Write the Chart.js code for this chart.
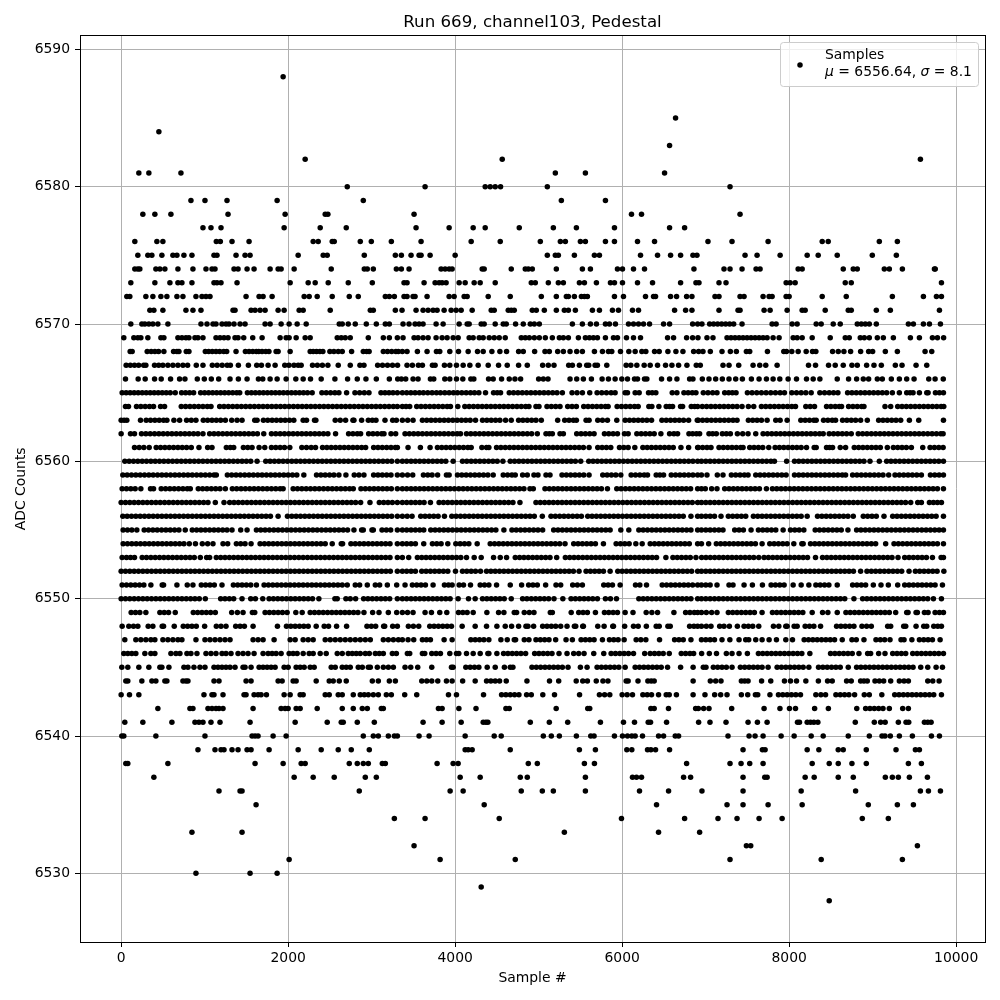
<!DOCTYPE html>
<html>
<head>
<meta charset="utf-8">
<title>Run 669, channel103, Pedestal</title>
<script src="https://cdn.jsdelivr.net/npm/chart.js@4/dist/chart.umd.min.js"></script>
<style>
body { margin: 0; background: #fff; }
canvas { display: block; }
</style>
</head>
<body>
<canvas id="myChart" width="1000" height="1000"></canvas>
<script>
// sample numbers, one list per ADC count
const s6588 = [1940];
const s6585 = [6640];
const s6584 = [452];
const s6583 = [6568];
const s6582 = [2204, 4564, 9572];
const s6581 = [212, 332, 716, 5200, 5560, 6508];
const s6580 = [2708, 3640, 4360, 4420, 4480, 4544, 5104, 7292];
const s6579 = [836, 1004, 1268, 1868, 2900, 5272, 5800];
const s6578 = [260, 404, 596, 1280, 1964, 2444, 2476, 3508, 6112, 6232, 7412];
const s6577 = [980, 1076, 1196, 1952, 2384, 2696, 3532, 3928, 4216, 4360, 4768, 5176, 5452, 5908, 6568, 6748];
const s6576 = [164, 428, 500, 1140, 1188, 1328, 1532, 2300, 2360, 2528, 2552, 2864, 2996, 3236, 3592, 4192, 4540, 5020, 5260, 5320, 5500, 5560, 5800, 5908, 6184, 6388, 7028, 7316, 7748, 8396, 8468, 9080, 9296];
const s6575 = [200, 320, 368, 488, 620, 668, 752, 848, 1112, 1148, 1376, 1484, 1544, 2120, 2420, 2468, 2912, 3284, 3356, 3472, 3568, 3592, 3700, 4000, 5104, 5200, 5236, 5428, 5668, 5728, 6220, 6424, 6580, 6700, 6848, 6896, 7472, 7616, 7892, 8216, 8348, 8576, 8996, 9284];
const s6574 = [164, 200, 224, 416, 464, 524, 680, 860, 1016, 1088, 1124, 1352, 1400, 1508, 1592, 1784, 1880, 1916, 2072, 2516, 2912, 2948, 3020, 3296, 3356, 3448, 3832, 3880, 3928, 3964, 4324, 4348, 4672, 4840, 4876, 4924, 5212, 5524, 5620, 5944, 6004, 6136, 6268, 6860, 7220, 7292, 7436, 7604, 7652, 8108, 8156, 8648, 8768, 8816, 9140, 9200, 9356, 9740, 9750];
const s6573 = [116, 404, 584, 680, 728, 848, 1112, 1148, 1196, 1388, 2024, 2240, 2324, 2480, 2720, 3008, 3388, 3424, 3628, 3760, 3808, 3844, 3892, 4048, 4120, 4228, 4300, 4480, 4912, 4960, 5116, 5236, 5296, 5488, 5548, 5692, 5860, 5908, 6004, 6184, 6364, 6700, 6884, 6920, 7160, 7244, 7964, 8012, 8072, 8672, 8744, 9824];
const s6572 = [68, 104, 296, 380, 476, 548, 668, 740, 896, 968, 1016, 1064, 1496, 1652, 1700, 1808, 2192, 2252, 2348, 2528, 2732, 2840, 3164, 3212, 3272, 3388, 3424, 3496, 3520, 3664, 3928, 3988, 4108, 4144, 4396, 4660, 5032, 5212, 5332, 5356, 5428, 5512, 5548, 5584, 5908, 6016, 6280, 6376, 6400, 6580, 6652, 6772, 6836, 7112, 7160, 7412, 7460, 7688, 7760, 7796, 7964, 8000, 8396, 8684, 9236, 9608, 9764, 9824];
const s6571 = [344, 392, 500, 776, 860, 956, 1340, 1364, 1556, 1604, 1664, 1724, 1880, 1952, 2132, 2180, 2504, 2984, 3020, 3284, 3364, 3532, 3616, 3676, 3736, 3784, 3868, 3952, 4012, 4072, 4204, 4432, 4468, 4636, 4672, 4708, 4924, 4972, 5068, 5212, 5308, 5356, 5440, 5644, 5728, 5884, 5956, 6124, 6196, 6628, 6760, 6836, 7160, 7388, 7412, 7700, 7772, 7976, 8156, 8192, 8432, 8708, 8744, 9044, 9212, 9800];
const s6570 = [116, 248, 284, 332, 380, 440, 560, 956, 1028, 1100, 1136, 1208, 1256, 1292, 1352, 1424, 1484, 1724, 1784, 1916, 2012, 2108, 2216, 2612, 2648, 2720, 2804, 2936, 3056, 3164, 3212, 3376, 3448, 3520, 3568, 3616, 3772, 3856, 4048, 4144, 4168, 4312, 4348, 4480, 4576, 4612, 4724, 4816, 4900, 4948, 5008, 5404, 5524, 5620, 5692, 5800, 5848, 5920, 6076, 6136, 6196, 6256, 6328, 6496, 6568, 6844, 6904, 6956, 7048, 7096, 7144, 7192, 7240, 7288, 7336, 7436, 7796, 7844, 8036, 8096, 8324, 8384, 8528, 8612, 8816, 8864, 8912, 8960, 9044, 9428, 9488, 9608, 9680, 9812];
const s6569 = [32, 152, 200, 236, 320, 476, 512, 680, 728, 776, 812, 884, 920, 980, 1136, 1184, 1232, 1280, 1364, 1400, 1468, 1576, 1688, 1904, 1976, 2012, 2096, 2204, 2264, 2588, 2636, 2684, 2744, 2960, 3140, 3212, 3308, 3376, 3508, 3556, 3616, 3676, 3772, 3844, 3904, 3976, 4036, 4168, 4216, 4288, 4336, 4408, 4468, 4528, 4600, 4792, 4840, 4888, 4948, 5008, 5080, 5164, 5248, 5296, 5356, 5476, 5560, 5608, 5656, 5704, 5800, 5896, 5944, 6052, 6136, 6220, 6544, 6616, 6772, 6844, 6908, 7016, 7088, 7256, 7304, 7352, 7400, 7448, 7496, 7544, 7592, 7640, 7688, 7736, 7808, 7880, 8048, 8096, 8156, 8276, 8492, 8672, 8720, 8852, 8900, 8960, 9056, 9128, 9248, 9452, 9560, 9716, 9776, 9850];
const s6568 = [108, 132, 312, 360, 404, 448, 512, 628, 668, 692, 780, 812, 1008, 1048, 1092, 1136, 1180, 1228, 1264, 1376, 1488, 1532, 1576, 1620, 1648, 1688, 1732, 1770, 1856, 1880, 2024, 2264, 2300, 2340, 2380, 2416, 2500, 2548, 2600, 2648, 2760, 2900, 2940, 2970, 3140, 3190, 3240, 3290, 3320, 3368, 3424, 3548, 3664, 3776, 3816, 3936, 4040, 4156, 4268, 4336, 4440, 4536, 4616, 4760, 4816, 4952, 5076, 5128, 5228, 5296, 5376, 5456, 5524, 5668, 5764, 5836, 5876, 5980, 6080, 6156, 6236, 6284, 6388, 6444, 6548, 6644, 6728, 6856, 6916, 6968, 7056, 7196, 7296, 7368, 7488, 7528, 7740, 7936, 7968, 8032, 8108, 8204, 8280, 8320, 8520, 8588, 8656, 8736, 8856, 8952, 9000, 9152, 9296, 9628, 9708];
const s6567 = [60, 110, 160, 210, 270, 296, 400, 450, 500, 560, 620, 680, 740, 796, 900, 980, 1092, 1150, 1210, 1270, 1308, 1404, 1524, 1624, 1680, 1760, 1844, 1960, 2010, 2070, 2120, 2156, 2292, 2350, 2410, 2476, 2600, 2744, 2860, 2908, 3072, 3130, 3190, 3250, 3310, 3424, 3488, 3560, 3608, 3728, 3760, 3872, 3936, 4016, 4096, 4176, 4276, 4396, 4520, 4624, 4760, 4864, 5048, 5116, 5184, 5360, 5404, 5488, 5576, 5600, 5676, 5704, 5816, 6048, 6104, 6176, 6264, 6336, 6424, 6520, 6596, 6676, 6776, 6888, 6936, 7208, 7280, 7396, 7568, 7648, 7720, 7856, 8232, 8316, 8472, 8552, 8648, 8752, 8816, 8928, 9016, 9104, 9272, 9352, 9520, 9648];
const s6566 = [52, 204, 288, 400, 480, 592, 700, 764, 912, 996, 1080, 1168, 1304, 1404, 1508, 1644, 1696, 1784, 1868, 1976, 2092, 2180, 2268, 2396, 2560, 2712, 2828, 2932, 3056, 3212, 3312, 3356, 3408, 3496, 3556, 3704, 3744, 3876, 3936, 4016, 4092, 4188, 4224, 4400, 4456, 4556, 4648, 4716, 4784, 5000, 5056, 5112, 5376, 5456, 5536, 5632, 5760, 5836, 5916, 5996, 6064, 6148, 6184, 6268, 6296, 6472, 6568, 6656, 6808, 6848, 6960, 7040, 7120, 7200, 7280, 7360, 7440, 7548, 7640, 7728, 7808, 7888, 7988, 8088, 8208, 8288, 8368, 8576, 8712, 8808, 8888, 8952, 9056, 9116, 9224, 9320, 9408, 9496, 9672, 9748, 9846];
const s6565 = [12, 60, 108, 156, 204, 252, 300, 348, 396, 444, 492, 540, 588, 648, 724, 772, 820, 868, 952, 1000, 1048, 1096, 1144, 1192, 1240, 1288, 1336, 1384, 1420, 1512, 1560, 1608, 1656, 1704, 1752, 1800, 1848, 1896, 1944, 1992, 2040, 2088, 2136, 2184, 2232, 2288, 2404, 2456, 2508, 2560, 2608, 2700, 2800, 2856, 2912, 2968, 3112, 3160, 3208, 3256, 3308, 3368, 3420, 3470, 3520, 3572, 3620, 3672, 3724, 3776, 3824, 3876, 3928, 3980, 4028, 4080, 4132, 4184, 4232, 4284, 4364, 4460, 4504, 4544, 4648, 4700, 4752, 4804, 4856, 4908, 4960, 5012, 5064, 5116, 5168, 5220, 5284, 5400, 5460, 5524, 5612, 5700, 5756, 5812, 5868, 5916, 6036, 6064, 6156, 6204, 6316, 6360, 6404, 6600, 6656, 6740, 6790, 6840, 6884, 6972, 7028, 7084, 7136, 7228, 7276, 7320, 7364, 7500, 7556, 7612, 7668, 7724, 7780, 7836, 7892, 7944, 8032, 8088, 8144, 8200, 8264, 8368, 8424, 8480, 8532, 8584, 8700, 8752, 8804, 8856, 8908, 8960, 9012, 9064, 9116, 9168, 9236, 9320, 9408, 9448, 9484, 9560, 9648, 9664, 9752, 9800, 9848];
const s6564 = [52, 88, 184, 236, 288, 340, 388, 472, 520, 720, 772, 824, 876, 928, 980, 1032, 1076, 1180, 1232, 1284, 1336, 1388, 1440, 1492, 1544, 1596, 1648, 1700, 1752, 1804, 1856, 1908, 1960, 2012, 2064, 2116, 2168, 2220, 2272, 2324, 2376, 2428, 2480, 2532, 2584, 2636, 2688, 2740, 2792, 2844, 2896, 2948, 3000, 3052, 3104, 3156, 3208, 3260, 3308, 3368, 3412, 3456, 3540, 3592, 3644, 3696, 3748, 3800, 3852, 3904, 3944, 4032, 4116, 4168, 4220, 4272, 4324, 4376, 4428, 4480, 4532, 4584, 4636, 4688, 4740, 4792, 4844, 4884, 4968, 5004, 5100, 5152, 5204, 5256, 5348, 5400, 5452, 5540, 5592, 5644, 5696, 5748, 5800, 5832, 5940, 5992, 6044, 6096, 6148, 6192, 6320, 6356, 6440, 6528, 6568, 6604, 6700, 6724, 6828, 6868, 6904, 6960, 7012, 7064, 7116, 7168, 7220, 7272, 7324, 7376, 7436, 7512, 7576, 7668, 7720, 7772, 7824, 7876, 7928, 7980, 8032, 8076, 8200, 8252, 8304, 8448, 8500, 8552, 8600, 8628, 8712, 8764, 8816, 8868, 8896, 9148, 9216, 9300, 9352, 9404, 9456, 9508, 9560, 9612, 9664, 9716, 9768, 9820, 9852];
const s6563 = [0, 36, 68, 232, 300, 352, 404, 456, 508, 548, 632, 700, 784, 840, 896, 984, 1036, 1088, 1140, 1192, 1248, 1324, 1388, 1448, 1600, 1628, 1704, 1756, 1808, 1860, 1912, 1964, 2016, 2068, 2180, 2220, 2316, 2332, 2564, 2624, 2688, 2776, 2788, 2880, 2960, 3008, 3052, 3160, 3252, 3296, 3368, 3432, 3496, 3608, 3660, 3712, 3764, 3816, 3868, 3920, 3972, 4024, 4076, 4128, 4180, 4244, 4328, 4380, 4432, 4484, 4536, 4604, 4672, 4760, 4812, 4864, 4916, 4968, 5032, 5228, 5312, 5364, 5416, 5452, 5568, 5604, 5708, 5764, 5824, 5936, 6036, 6088, 6140, 6192, 6244, 6296, 6352, 6476, 6528, 6580, 6632, 6684, 6736, 6796, 6900, 6912, 6964, 7016, 7068, 7120, 7172, 7224, 7276, 7328, 7376, 7512, 7564, 7616, 7668, 7736, 7840, 7892, 7976, 8140, 8192, 8244, 8296, 8324, 8412, 8464, 8516, 8556, 8640, 8692, 8744, 8796, 8856, 8936, 9072, 9124, 9176, 9228, 9280, 9336, 9440, 9552, 9848];
const s6562 = [0, 112, 160, 244, 296, 348, 400, 452, 504, 556, 608, 660, 712, 764, 816, 868, 920, 980, 1060, 1112, 1164, 1216, 1268, 1320, 1372, 1424, 1476, 1528, 1580, 1632, 1708, 1800, 1852, 1904, 1956, 2008, 2060, 2112, 2164, 2216, 2268, 2320, 2372, 2424, 2476, 2568, 2724, 2776, 2828, 2868, 2964, 3016, 3068, 3120, 3148, 3232, 3288, 3400, 3452, 3504, 3556, 3608, 3660, 3712, 3764, 3816, 3868, 3920, 3972, 4024, 4064, 4136, 4188, 4240, 4292, 4344, 4396, 4448, 4500, 4552, 4604, 4656, 4708, 4760, 4812, 4864, 4916, 4984, 5088, 5128, 5164, 5256, 5296, 5456, 5508, 5560, 5612, 5664, 5788, 5840, 5892, 5944, 6028, 6072, 6176, 6228, 6280, 6332, 6384, 6464, 6568, 6620, 6664, 6800, 6844, 6890, 6928, 7040, 7084, 7128, 7200, 7248, 7296, 7380, 7444, 7508, 7600, 7688, 7740, 7792, 7844, 7896, 7948, 8000, 8052, 8104, 8156, 8208, 8260, 8312, 8364, 8408, 8480, 8532, 8584, 8636, 8688, 8744, 8828, 8880, 8932, 8984, 9036, 9088, 9140, 9192, 9244, 9296, 9348, 9400, 9452, 9504, 9556, 9608, 9660, 9712, 9764, 9816, 9844];
const s6561 = [160, 216, 272, 336, 420, 472, 524, 576, 628, 680, 732, 784, 840, 932, 1036, 1088, 1260, 1308, 1348, 1464, 1516, 1568, 1652, 1720, 1800, 1852, 1904, 1956, 2020, 2164, 2220, 2276, 2328, 2412, 2464, 2516, 2568, 2620, 2672, 2724, 2776, 2828, 2880, 2928, 3024, 3076, 3128, 3180, 3232, 3284, 3308, 3436, 3584, 3700, 3788, 3840, 3892, 3944, 3996, 4048, 4100, 4152, 4192, 4320, 4376, 4404, 4496, 4548, 4600, 4652, 4704, 4756, 4808, 4860, 4912, 4964, 5016, 5068, 5120, 5172, 5224, 5276, 5328, 5380, 5432, 5484, 5536, 5604, 5708, 5760, 5812, 5864, 5968, 6020, 6072, 6152, 6248, 6300, 6352, 6404, 6456, 6508, 6560, 6612, 6704, 6796, 6904, 6912, 6964, 7016, 7064, 7160, 7212, 7264, 7316, 7368, 7420, 7448, 7528, 7580, 7632, 7684, 7756, 7832, 7884, 7936, 7988, 8040, 8092, 8144, 8208, 8300, 8324, 8448, 8484, 8520, 8612, 8676, 8780, 8832, 8884, 8936, 8988, 9040, 9092, 9176, 9248, 9300, 9352, 9404, 9464, 9600, 9688, 9740, 9792, 9844];
const s6560 = [44, 96, 148, 200, 252, 304, 356, 408, 460, 512, 564, 616, 668, 720, 772, 824, 876, 928, 980, 1032, 1084, 1136, 1188, 1240, 1292, 1344, 1396, 1448, 1500, 1552, 1628, 1732, 1784, 1836, 1888, 1940, 1992, 2044, 2096, 2148, 2200, 2252, 2304, 2356, 2408, 2460, 2512, 2564, 2616, 2668, 2720, 2772, 2824, 2876, 2928, 2980, 3032, 3084, 3136, 3188, 3240, 3308, 3368, 3420, 3472, 3524, 3576, 3628, 3680, 3732, 3784, 3836, 3888, 3976, 4088, 4140, 4192, 4244, 4296, 4348, 4400, 4452, 4504, 4572, 4660, 4712, 4764, 4816, 4868, 4920, 4972, 5024, 5076, 5128, 5180, 5232, 5284, 5336, 5388, 5440, 5504, 5600, 5652, 5704, 5756, 5808, 5860, 5912, 5964, 6016, 6068, 6120, 6172, 6224, 6276, 6328, 6380, 6432, 6484, 6536, 6588, 6640, 6692, 6744, 6796, 6848, 6904, 6950, 7002, 7054, 7106, 7158, 7210, 7262, 7314, 7366, 7418, 7470, 7522, 7574, 7626, 7678, 7730, 7782, 7824, 7970, 8064, 8116, 8168, 8220, 8272, 8324, 8376, 8428, 8480, 8532, 8584, 8636, 8688, 8740, 8792, 8844, 8896, 8968, 9080, 9168, 9220, 9272, 9324, 9376, 9428, 9480, 9532, 9584, 9636, 9688, 9740, 9792, 9848];
const s6559 = [20, 72, 124, 176, 228, 280, 332, 384, 436, 488, 540, 592, 644, 696, 748, 800, 852, 904, 956, 1008, 1060, 1112, 1140, 1272, 1324, 1376, 1428, 1480, 1532, 1584, 1636, 1688, 1740, 1792, 1844, 1896, 1948, 2000, 2052, 2104, 2188, 2340, 2392, 2444, 2496, 2548, 2608, 2692, 2792, 2848, 2908, 3024, 3076, 3128, 3180, 3232, 3308, 3368, 3430, 3492, 3620, 3672, 3724, 3790, 3896, 3928, 4028, 4080, 4132, 4184, 4236, 4288, 4340, 4392, 4456, 4576, 4628, 4680, 4720, 4808, 4864, 4944, 4992, 5088, 5136, 5280, 5332, 5384, 5436, 5488, 5540, 5604, 5768, 5820, 5872, 5924, 5984, 6108, 6160, 6212, 6264, 6304, 6408, 6452, 6496, 6588, 6640, 6692, 6744, 6796, 6848, 6904, 6950, 7016, 7140, 7208, 7308, 7360, 7412, 7464, 7508, 7600, 7652, 7704, 7756, 7808, 7860, 7912, 7964, 8064, 8116, 8168, 8220, 8272, 8324, 8376, 8428, 8480, 8532, 8584, 8636, 8676, 8760, 8812, 8864, 8916, 8968, 9020, 9072, 9124, 9192, 9268, 9320, 9372, 9424, 9476, 9528, 9584, 9692, 9744, 9796, 9848];
const s6558 = [12, 64, 116, 168, 236, 352, 388, 480, 532, 584, 636, 688, 740, 792, 828, 924, 976, 1028, 1080, 1132, 1184, 1248, 1332, 1384, 1436, 1488, 1540, 1592, 1644, 1696, 1748, 1800, 1852, 1904, 1940, 2060, 2112, 2164, 2216, 2268, 2320, 2372, 2424, 2476, 2528, 2580, 2632, 2684, 2736, 2780, 2872, 2924, 2976, 3028, 3080, 3132, 3184, 3236, 3308, 3368, 3420, 3472, 3524, 3576, 3628, 3680, 3732, 3784, 3836, 3888, 3940, 3992, 4044, 4096, 4148, 4200, 4252, 4304, 4356, 4408, 4460, 4512, 4564, 4616, 4668, 4720, 4772, 4824, 4896, 4936, 5076, 5128, 5180, 5232, 5284, 5336, 5388, 5440, 5492, 5544, 5596, 5648, 5700, 5752, 5824, 5936, 5988, 6040, 6092, 6144, 6196, 6248, 6300, 6352, 6404, 6456, 6508, 6560, 6612, 6664, 6716, 6768, 6820, 6904, 6950, 6996, 7072, 7136, 7228, 7280, 7332, 7384, 7436, 7488, 7540, 7592, 7644, 7728, 7800, 7852, 7904, 7956, 8008, 8060, 8112, 8164, 8216, 8268, 8320, 8372, 8424, 8476, 8528, 8580, 8632, 8684, 8736, 8788, 8840, 8892, 8944, 8996, 9048, 9100, 9152, 9204, 9256, 9308, 9360, 9412, 9464, 9516, 9568, 9620, 9672, 9724, 9776, 9848];
const s6557 = [0, 52, 104, 156, 208, 260, 312, 364, 416, 468, 520, 572, 624, 676, 728, 780, 832, 884, 936, 988, 1040, 1128, 1232, 1300, 1352, 1404, 1456, 1508, 1560, 1612, 1664, 1716, 1768, 1820, 1872, 1924, 1976, 2028, 2080, 2132, 2184, 2236, 2288, 2340, 2392, 2444, 2496, 2548, 2600, 2652, 2704, 2756, 2808, 2868, 2980, 3092, 3144, 3196, 3248, 3308, 3368, 3420, 3472, 3524, 3576, 3628, 3704, 3808, 3860, 3912, 3964, 4016, 4068, 4120, 4172, 4224, 4276, 4328, 4380, 4432, 4484, 4536, 4588, 4640, 4692, 4776, 4968, 5020, 5072, 5124, 5176, 5228, 5280, 5332, 5384, 5436, 5488, 5540, 5592, 5644, 5696, 5748, 5800, 5852, 5904, 5956, 6008, 6060, 6112, 6164, 6216, 6268, 6320, 6372, 6424, 6476, 6528, 6580, 6632, 6684, 6736, 6788, 6840, 6904, 6950, 7002, 7054, 7106, 7158, 7210, 7262, 7314, 7366, 7418, 7470, 7522, 7574, 7626, 7678, 7730, 7782, 7834, 7886, 7938, 7990, 8042, 8094, 8146, 8198, 8250, 8302, 8354, 8406, 8458, 8510, 8562, 8614, 8666, 8718, 8770, 8822, 8874, 8926, 8978, 9030, 9082, 9134, 9186, 9238, 9290, 9342, 9394, 9456, 9540, 9584, 9680, 9728, 9776, 9824];
const s6556 = [20, 72, 124, 176, 228, 280, 332, 384, 436, 488, 540, 592, 644, 696, 748, 800, 852, 904, 956, 1008, 1060, 1112, 1164, 1216, 1268, 1320, 1372, 1424, 1476, 1528, 1580, 1632, 1684, 1736, 1788, 1880, 1992, 2044, 2096, 2148, 2200, 2252, 2304, 2356, 2408, 2460, 2512, 2564, 2616, 2668, 2720, 2772, 2824, 2876, 2928, 2980, 3032, 3084, 3136, 3188, 3240, 3308, 3368, 3426, 3484, 3588, 3640, 3692, 3744, 3796, 3872, 3960, 4012, 4064, 4116, 4168, 4220, 4272, 4324, 4376, 4428, 4480, 4532, 4584, 4636, 4688, 4740, 4792, 4844, 4896, 4948, 5044, 5148, 5200, 5252, 5304, 5356, 5408, 5460, 5512, 5588, 5640, 5692, 5744, 5796, 5848, 5900, 5952, 6004, 6056, 6108, 6160, 6212, 6264, 6316, 6368, 6420, 6472, 6524, 6576, 6628, 6680, 6732, 6824, 6904, 6950, 7002, 7054, 7106, 7184, 7272, 7324, 7376, 7428, 7480, 7572, 7624, 7676, 7728, 7780, 7832, 7884, 7936, 7988, 8040, 8092, 8144, 8216, 8340, 8392, 8444, 8496, 8548, 8600, 8652, 8704, 8768, 8888, 8940, 8992, 9044, 9136, 9240, 9292, 9344, 9396, 9448, 9500, 9552, 9604, 9656, 9708, 9760, 9848];
const s6555 = [24, 76, 128, 188, 276, 328, 380, 432, 484, 536, 588, 640, 692, 768, 852, 904, 956, 1008, 1060, 1112, 1164, 1216, 1268, 1328, 1432, 1508, 1620, 1672, 1724, 1776, 1828, 1880, 1932, 1984, 2036, 2088, 2140, 2192, 2244, 2296, 2348, 2400, 2452, 2504, 2556, 2608, 2660, 2712, 2788, 2880, 2900, 3004, 3020, 3124, 3176, 3228, 3308, 3368, 3420, 3472, 3524, 3576, 3624, 3708, 3760, 3812, 3864, 3916, 3968, 4020, 4072, 4124, 4176, 4228, 4280, 4332, 4384, 4436, 4488, 4584, 4680, 4732, 4784, 4836, 4888, 4940, 4992, 5048, 5180, 5232, 5284, 5336, 5388, 5440, 5492, 5544, 5596, 5648, 5700, 5752, 5804, 5856, 5984, 6080, 6200, 6252, 6304, 6356, 6408, 6460, 6512, 6564, 6616, 6668, 6720, 6772, 6824, 6904, 6950, 7002, 7054, 7106, 7158, 7208, 7348, 7400, 7452, 7544, 7632, 7684, 7736, 7788, 7840, 7928, 8016, 8068, 8120, 8176, 8312, 8364, 8416, 8468, 8520, 8572, 8624, 8704, 8808, 8860, 8912, 8964, 9016, 9068, 9120, 9172, 9224, 9276, 9328, 9380, 9432, 9484, 9536, 9588, 9640, 9692, 9744, 9796, 9848];
const s6554 = [24, 76, 128, 180, 232, 284, 336, 388, 440, 492, 544, 596, 648, 700, 752, 816, 890, 972, 1036, 1100, 1220, 1276, 1380, 1432, 1484, 1556, 1664, 1716, 1768, 1820, 1872, 1924, 1976, 2028, 2080, 2132, 2184, 2236, 2288, 2340, 2392, 2444, 2528, 2636, 2652, 2752, 2804, 2856, 2908, 2960, 3012, 3064, 3116, 3168, 3220, 3308, 3368, 3420, 3472, 3524, 3624, 3728, 3780, 3832, 3912, 4008, 4060, 4112, 4164, 4264, 4420, 4472, 4524, 4576, 4628, 4680, 4732, 4784, 4836, 4888, 4940, 4992, 5044, 5096, 5148, 5200, 5252, 5316, 5420, 5472, 5524, 5576, 5628, 5680, 5776, 5928, 5980, 6032, 6084, 6164, 6240, 6336, 6388, 6440, 6492, 6544, 6596, 6648, 6700, 6752, 6804, 6904, 6950, 7036, 7128, 7180, 7232, 7284, 7336, 7388, 7440, 7492, 7544, 7596, 7676, 7768, 7820, 7872, 7924, 7976, 8056, 8152, 8168, 8256, 8308, 8360, 8412, 8464, 8516, 8568, 8620, 8672, 8724, 8776, 8828, 8880, 8932, 8984, 9036, 9156, 9256, 9308, 9360, 9412, 9464, 9516, 9568, 9620, 9672, 9724, 9776, 9848];
const s6553 = [12, 64, 112, 160, 252, 304, 356, 408, 460, 512, 564, 616, 668, 720, 772, 824, 876, 948, 1024, 1060, 1140, 1192, 1244, 1296, 1348, 1400, 1452, 1504, 1556, 1608, 1660, 1712, 1764, 1816, 1868, 1920, 1972, 2024, 2076, 2128, 2180, 2232, 2284, 2336, 2388, 2440, 2492, 2544, 2596, 2648, 2700, 2752, 2804, 2856, 2908, 2960, 3012, 3064, 3116, 3168, 3220, 3308, 3368, 3444, 3548, 3600, 3652, 3704, 3756, 3808, 3860, 3912, 3964, 4016, 4068, 4136, 4228, 4312, 4460, 4540, 4616, 4720, 4772, 4824, 4876, 4928, 4980, 5032, 5084, 5136, 5216, 5320, 5372, 5424, 5476, 5528, 5580, 5632, 5684, 5736, 5788, 5840, 5892, 5944, 5996, 6048, 6100, 6152, 6204, 6256, 6308, 6360, 6412, 6524, 6608, 6660, 6712, 6764, 6816, 6884, 6952, 7004, 7056, 7108, 7160, 7212, 7264, 7316, 7368, 7420, 7472, 7524, 7576, 7636, 7700, 7752, 7804, 7856, 7908, 7960, 8012, 8064, 8116, 8168, 8220, 8316, 8400, 8452, 8504, 8556, 8608, 8660, 8712, 8764, 8816, 8868, 8920, 8972, 9024, 9076, 9128, 9180, 9232, 9304, 9384, 9436, 9488, 9540, 9592, 9644, 9716, 9820, 9848];
const s6552 = [0, 52, 104, 156, 208, 260, 312, 364, 416, 468, 520, 572, 624, 676, 728, 780, 832, 884, 936, 988, 1040, 1092, 1144, 1196, 1248, 1300, 1352, 1404, 1456, 1508, 1560, 1612, 1664, 1716, 1768, 1820, 1872, 1924, 1976, 2028, 2080, 2132, 2184, 2236, 2288, 2340, 2392, 2444, 2496, 2548, 2600, 2652, 2704, 2756, 2808, 2860, 2912, 2964, 3016, 3068, 3120, 3172, 3224, 3308, 3368, 3420, 3472, 3524, 3600, 3652, 3704, 3756, 3808, 3860, 3912, 4004, 4088, 4140, 4192, 4244, 4304, 4376, 4428, 4480, 4532, 4584, 4636, 4688, 4740, 4792, 4844, 4896, 4948, 5000, 5052, 5104, 5156, 5208, 5260, 5312, 5364, 5416, 5484, 5568, 5620, 5672, 5724, 5776, 5856, 5948, 6000, 6052, 6104, 6156, 6208, 6260, 6312, 6364, 6416, 6468, 6520, 6572, 6624, 6676, 6728, 6780, 6832, 6904, 6950, 7002, 7054, 7106, 7158, 7210, 7262, 7314, 7366, 7418, 7470, 7522, 7574, 7626, 7678, 7730, 7782, 7834, 7886, 7938, 7990, 8042, 8094, 8146, 8198, 8250, 8302, 8354, 8406, 8458, 8510, 8562, 8614, 8666, 8718, 8770, 8856, 8932, 8984, 9036, 9088, 9140, 9192, 9244, 9296, 9348, 9436, 9512, 9564, 9616, 9668, 9720, 9772, 9853];
const s6551 = [12, 64, 116, 168, 220, 272, 356, 492, 508, 668, 792, 860, 960, 1012, 1064, 1116, 1208, 1344, 1396, 1448, 1500, 1552, 1620, 1712, 1764, 1816, 1868, 1920, 1972, 2024, 2076, 2128, 2180, 2232, 2284, 2336, 2388, 2440, 2492, 2544, 2596, 2648, 2708, 2804, 2856, 2948, 3044, 3096, 3188, 3300, 3400, 3488, 3540, 3592, 3644, 3736, 3872, 3920, 3964, 4048, 4100, 4184, 4300, 4352, 4404, 4496, 4660, 4796, 4880, 4932, 4984, 5084, 5208, 5264, 5408, 5464, 5524, 5780, 5832, 5884, 5976, 6160, 6212, 6292, 6480, 6532, 6584, 6636, 6688, 6740, 6792, 6844, 6904, 6950, 7002, 7054, 7136, 7280, 7328, 7460, 7560, 7680, 7784, 7836, 7888, 7940, 8048, 8144, 8236, 8320, 8372, 8424, 8476, 8576, 8760, 8812, 8864, 8916, 9008, 9100, 9188, 9300, 9384, 9436, 9488, 9540, 9592, 9644, 9696, 9748, 9836];
const s6550 = [0, 52, 104, 156, 208, 260, 312, 364, 416, 468, 520, 572, 624, 676, 728, 780, 832, 884, 936, 1008, 1192, 1244, 1296, 1348, 1448, 1552, 1608, 1696, 1772, 1824, 1876, 1928, 1980, 2032, 2084, 2136, 2188, 2240, 2292, 2368, 2560, 2588, 2692, 2744, 2808, 2904, 2956, 3008, 3060, 3112, 3164, 3216, 3308, 3368, 3420, 3472, 3524, 3576, 3628, 3680, 3732, 3784, 3836, 3888, 3940, 4036, 4160, 4240, 4328, 4380, 4432, 4484, 4536, 4588, 4672, 4808, 4860, 4912, 4964, 5016, 5068, 5120, 5184, 5290, 5388, 5440, 5492, 5544, 5596, 5648, 5704, 5800, 5860, 5932, 6200, 6252, 6304, 6356, 6408, 6460, 6512, 6564, 6616, 6668, 6720, 6772, 6824, 6904, 6950, 7002, 7054, 7106, 7158, 7210, 7262, 7314, 7366, 7418, 7470, 7522, 7574, 7626, 7678, 7730, 7782, 7834, 7886, 7938, 7990, 8042, 8094, 8146, 8198, 8250, 8302, 8354, 8406, 8458, 8510, 8562, 8614, 8666, 8776, 8880, 8932, 8984, 9036, 9088, 9140, 9192, 9244, 9296, 9348, 9400, 9452, 9504, 9556, 9608, 9660, 9728, 9824];
const s6549 = [120, 172, 224, 296, 464, 516, 568, 648, 864, 916, 968, 1020, 1072, 1128, 1324, 1392, 1460, 1572, 1600, 1724, 1776, 1828, 1880, 1932, 1988, 2092, 2168, 2264, 2316, 2368, 2420, 2472, 2524, 2576, 2628, 2680, 2732, 2784, 2836, 2908, 3012, 3088, 3200, 3300, 3368, 3430, 3496, 3640, 3716, 3816, 3900, 4040, 4092, 4144, 4216, 4380, 4520, 4584, 4708, 4736, 4828, 4888, 4944, 5140, 5164, 5390, 5480, 5532, 5584, 5680, 5788, 5840, 5892, 5944, 6036, 6130, 6288, 6356, 6424, 6620, 6760, 6812, 6864, 6904, 6950, 7008, 7072, 7136, 7272, 7324, 7376, 7428, 7480, 7532, 7584, 7676, 7800, 7852, 7904, 7956, 8008, 8060, 8112, 8164, 8276, 8400, 8464, 8576, 8680, 8732, 8784, 8836, 8888, 8940, 8992, 9044, 9096, 9148, 9200, 9276, 9408, 9424, 9520, 9536, 9620, 9664, 9748, 9800, 9848];
const s6548 = [12, 92, 148, 200, 324, 380, 492, 508, 636, 744, 796, 848, 900, 1000, 1140, 1196, 1256, 1372, 1424, 1476, 1580, 1872, 1980, 2032, 2084, 2136, 2188, 2240, 2336, 2432, 2484, 2580, 2700, 2944, 2996, 3048, 3144, 3156, 3252, 3308, 3440, 3500, 3564, 3696, 3748, 3800, 3852, 3904, 3956, 4084, 4240, 4376, 4500, 4600, 4676, 4760, 4848, 4872, 4940, 5048, 5100, 5152, 5204, 5264, 5340, 5428, 5444, 5528, 5536, 5708, 5784, 5888, 5896, 6030, 6136, 6192, 6290, 6408, 6444, 6548, 6576, 6808, 6860, 6904, 6950, 7008, 7064, 7168, 7220, 7284, 7380, 7460, 7512, 7564, 7636, 7812, 7876, 7960, 7976, 8060, 8096, 8192, 8244, 8296, 8376, 8568, 8620, 8672, 8724, 8776, 8872, 8928, 8984, 9180, 9216, 9372, 9396, 9520, 9612, 9648, 9732, 9780, 9824];
const s6547 = [44, 176, 236, 296, 356, 404, 500, 560, 620, 680, 728, 896, 1004, 1064, 1124, 1184, 1244, 1304, 1580, 1640, 1700, 1832, 2024, 2084, 2180, 2240, 2300, 2444, 2504, 2564, 2624, 2684, 2744, 2804, 2864, 2924, 2984, 3140, 3200, 3260, 3320, 3368, 3436, 3504, 3608, 3656, 3704, 3868, 3964, 4188, 4240, 4292, 4344, 4404, 4548, 4624, 4708, 4724, 4828, 4884, 4968, 5020, 5072, 5124, 5204, 5328, 5404, 5508, 5560, 5612, 5664, 5764, 5848, 5900, 5952, 6024, 6168, 6224, 6284, 6448, 6628, 6680, 6732, 6824, 6950, 7002, 7054, 7106, 7196, 7290, 7400, 7480, 7516, 7600, 7676, 7760, 7848, 7960, 8040, 8180, 8232, 8284, 8336, 8388, 8440, 8492, 8544, 8636, 8752, 8804, 8896, 9040, 9092, 9144, 9208, 9340, 9376, 9470, 9560, 9612, 9664, 9716, 9808];
const s6546 = [32, 80, 128, 176, 284, 356, 404, 596, 656, 704, 788, 836, 908, 1016, 1076, 1136, 1208, 1256, 1316, 1400, 1460, 1520, 1592, 1700, 1760, 1808, 1856, 1916, 2012, 2060, 2108, 2180, 2252, 2300, 2384, 2456, 2588, 2648, 2720, 2768, 2816, 2864, 2924, 2972, 3044, 3092, 3140, 3248, 3296, 3428, 3456, 3608, 3636, 3720, 3772, 3824, 3936, 4016, 4044, 4136, 4216, 4300, 4392, 4404, 4500, 4580, 4632, 4684, 4736, 4788, 4844, 4952, 5004, 5056, 5108, 5160, 5244, 5340, 5420, 5480, 5544, 5660, 5780, 5868, 5920, 5972, 6024, 6076, 6136, 6270, 6336, 6388, 6440, 6492, 6564, 6708, 6760, 6812, 6856, 6952, 7044, 7130, 7248, 7316, 7400, 7500, 7632, 7684, 7736, 7788, 7840, 7892, 7944, 7996, 8048, 8100, 8152, 8248, 8496, 8548, 8600, 8652, 8704, 8756, 8836, 8940, 8976, 9072, 9148, 9240, 9292, 9344, 9396, 9480, 9532, 9584, 9636, 9688, 9740, 9792, 9848];
const s6545 = [8, 80, 212, 332, 464, 488, 572, 752, 800, 872, 944, 1004, 1112, 1160, 1208, 1256, 1304, 1364, 1460, 1484, 1556, 1652, 1700, 1748, 1796, 1844, 1952, 2000, 2096, 2144, 2192, 2264, 2312, 2516, 2564, 2648, 2696, 2744, 2840, 2888, 2960, 2984, 3068, 3140, 3200, 3260, 3400, 3468, 3552, 3720, 3956, 3976, 4128, 4180, 4232, 4284, 4384, 4480, 4590, 4660, 4692, 4920, 4972, 5024, 5076, 5128, 5180, 5232, 5284, 5352, 5500, 5580, 5700, 5752, 5804, 5856, 5908, 5960, 6036, 6156, 6208, 6260, 6312, 6364, 6416, 6468, 6544, 6700, 6850, 6972, 7004, 7092, 7144, 7196, 7248, 7316, 7416, 7468, 7520, 7572, 7624, 7676, 7748, 7856, 7908, 7960, 8012, 8064, 8116, 8168, 8236, 8352, 8404, 8456, 8508, 8560, 8612, 8708, 8808, 8860, 8912, 8964, 9016, 9068, 9120, 9172, 9224, 9276, 9328, 9380, 9432, 9484, 9576, 9660, 9760, 9836];
const s6544 = [56, 80, 248, 368, 416, 524, 548, 740, 776, 800, 1112, 1172, 1496, 1556, 1880, 1928, 2060, 2096, 2336, 2492, 2540, 2612, 2696, 3008, 3080, 3212, 3284, 3600, 3660, 3720, 3792, 3896, 3964, 4090, 4240, 4376, 4428, 4480, 4532, 4612, 4860, 5130, 5240, 5450, 5528, 5584, 5690, 5770, 5830, 6048, 6072, 6190, 6308, 6348, 6384, 6850, 7056, 7120, 7184, 7428, 7468, 7508, 7670, 7780, 7944, 8016, 8088, 8200, 8350, 8460, 8516, 8688, 8744, 8856, 8896, 8936, 9028, 9080, 9132, 9216, 9320, 9376, 9428, 9660, 9720, 9796];
const s6543 = [0, 100, 212, 992, 1088, 1112, 1220, 1472, 1496, 1592, 1640, 1676, 1740, 1952, 2024, 2144, 2180, 2444, 2492, 2600, 2648, 2780, 2864, 2912, 2960, 3020, 3080, 3176, 3236, 3396, 3540, 3920, 4016, 4340, 4556, 4608, 4660, 4712, 4764, 4856, 4912, 5050, 5190, 5490, 5728, 5790, 5852, 6000, 6060, 6124, 6248, 6300, 6352, 6436, 6528, 6564, 6650, 6850, 6992, 7108, 7180, 7256, 7428, 7504, 7596, 7624, 7770, 7872, 7924, 7976, 8028, 8080, 8136, 8320, 8380, 8436, 8560, 8612, 8664, 8716, 8784, 8900, 8960, 9110, 9264, 9316, 9368, 9420, 9472, 9524, 9576, 9628, 9680, 9732, 9824];
const s6542 = [440, 824, 860, 1040, 1088, 1136, 1172, 1220, 1580, 1916, 1964, 2000, 2096, 2144, 2348, 2648, 2780, 2888, 2948, 3116, 3140, 3800, 3844, 4045, 4250, 4608, 4648, 5210, 5588, 5612, 6344, 6384, 6555, 6880, 6912, 6976, 7040, 7312, 7700, 7890, 8004, 8076, 8305, 8470, 8810, 8916, 8968, 9020, 9072, 9124, 9200, 9360, 9428];
const s6541 = [44, 260, 608, 884, 932, 980, 1076, 1184, 1544, 2084, 2468, 2636, 2660, 2828, 3032, 3616, 3844, 4072, 4336, 4368, 4392, 4900, 5128, 5348, 5740, 6016, 6148, 6312, 6340, 6532, 6916, 7052, 7244, 7508, 7620, 7736, 8100, 8124, 8216, 8256, 8296, 8344, 8792, 9020, 9096, 9150, 9308, 9400, 9432, 9620, 9660, 9700];
const s6540 = [8, 32, 416, 1004, 1568, 1604, 1640, 1820, 1976, 2900, 3020, 3080, 3200, 3272, 3308, 3568, 3688, 4120, 4468, 4552, 5056, 5152, 5248, 5452, 5624, 5664, 5908, 6004, 6064, 6116, 6156, 6244, 6436, 6496, 6636, 6676, 7268, 7520, 7592, 7688, 7904, 8060, 8264, 8408, 8708, 8960, 9112, 9148, 9212, 9320, 9476, 9704, 9800];
const s6539 = [920, 1124, 1196, 1232, 1328, 1400, 1508, 1556, 1772, 2120, 2396, 2600, 2756, 2972, 4120, 4156, 4204, 4660, 5488, 5680, 6056, 6116, 6304, 6344, 6400, 6568, 7448, 7680, 7712, 8216, 8356, 8588, 8648, 8924, 9280, 9512, 9560];
const s6538 = [56, 80, 560, 1604, 1940, 2156, 2204, 2732, 2828, 2900, 2960, 3128, 3164, 3784, 3976, 4036, 4876, 4984, 5548, 5668, 6772, 7292, 7424, 7528, 7688, 8276, 8480, 8588, 8752, 8924, 9428, 9584];
const s6537 = [392, 2072, 2300, 2552, 2924, 3056, 4060, 4300, 4780, 4864, 5560, 6124, 6172, 6232, 6736, 6820, 7448, 7708, 7736, 8192, 8300, 8588, 8768, 9152, 9236, 9308, 9440, 9656];
const s6536 = [1172, 1424, 1448, 2852, 3940, 4096, 4792, 5044, 5176, 5560, 6208, 6556, 6956, 7448, 8144, 8796, 9572, 9668, 9812];
const s6535 = [1616, 4348, 6412, 7256, 7448, 7748, 8156, 8948, 9296, 9488];
const s6534 = [3272, 3640, 4528, 5992, 6748, 7148, 7376, 7640, 7916, 8876, 9188];
const s6533 = [848, 1448, 5308, 6436, 6928];
const s6532 = [3508, 7488, 7540, 9536];
const s6531 = [2012, 3820, 4720, 7292, 8384, 9356];
const s6530 = [896, 1544, 1868];
const s6529 = [4312];
const s6528 = [8480];

const adcCounts = [6588, 6585, 6584, 6583, 6582, 6581, 6580, 6579, 6578, 6577, 6576, 6575, 6574, 6573, 6572, 6571, 6570, 6569, 6568, 6567, 6566, 6565, 6564, 6563, 6562, 6561, 6560, 6559, 6558, 6557, 6556, 6555, 6554, 6553, 6552, 6551, 6550, 6549, 6548, 6547, 6546, 6545, 6544, 6543, 6542, 6541, 6540, 6539, 6538, 6537, 6536, 6535, 6534, 6533, 6532, 6531, 6530, 6529, 6528];
const sampleRows = [s6588, s6585, s6584, s6583, s6582, s6581, s6580, s6579, s6578, s6577, s6576, s6575, s6574, s6573, s6572, s6571, s6570, s6569, s6568, s6567, s6566, s6565, s6564, s6563, s6562, s6561, s6560, s6559, s6558, s6557, s6556, s6555, s6554, s6553, s6552, s6551, s6550, s6549, s6548, s6547, s6546, s6545, s6544, s6543, s6542, s6541, s6540, s6539, s6538, s6537, s6536, s6535, s6534, s6533, s6532, s6531, s6530, s6529, s6528];

const xTicks = [0, 2000, 4000, 6000, 8000, 10000];
const yTicks = [6530, 6540, 6550, 6560, 6570, 6580, 6590];

const font = "'DejaVu Sans'";

const points = [];
sampleRows.forEach((row, i) => {
    row.forEach((x) => points.push({ x: x, y: adcCounts[i] }));
});

// axes frame and the matplotlib style legend box
const framePlugin = {
    id: 'frame',
    afterDraw(chart) {
        const c = chart.ctx;
        const a = chart.chartArea;
        c.save();
        c.strokeStyle = '#000';
        c.lineWidth = 1;
        const top = Math.floor(a.top);
        const left = Math.floor(a.left);
        c.strokeRect(left + 0.5, top + 0.5, Math.round(a.right) - left, Math.round(a.bottom) - top);

        // legend
        c.fillStyle = 'rgba(255,255,255,0.8)';
        c.strokeStyle = '#ccc';
        c.beginPath();
        c.roundRect(780.5, 42.5, 198, 44, 3);
        c.fill();
        c.stroke();
        c.fillStyle = '#000';
        c.beginPath();
        c.arc(800, 65, 2.75, 0, Math.PI * 2);
        c.fill();
        c.textBaseline = 'alphabetic';
        c.textAlign = 'left';
        c.font = '13.9px ' + font;
        c.fillText('Samples', 825, 59);
        let x = 825;
        const parts = [['\u03bc', true], [' = 6556.64, ', false], ['\u03c3', true], [' = 8.1', false]];
        parts.forEach((p) => {
            c.font = (p[1] ? 'italic ' : '') + '13.9px ' + font;
            c.fillText(p[0], x, 76);
            x += c.measureText(p[0]).width;
        });
        c.restore();
    }
};

const ctx = document.getElementById('myChart').getContext('2d');

new Chart(ctx, {
    type: 'scatter',
    data: {
        datasets: [{
            label: 'Samples',
            data: points,
            backgroundColor: '#000',
            pointRadius: 2.75,
            pointBorderWidth: 0
        }]
    },
    plugins: [framePlugin],
    options: {
        responsive: false,
        animation: false,
        layout: { padding: { left: 0, right: 15, bottom: 0, top: 0 } },
        plugins: {
            legend: { display: false },
            tooltip: { enabled: false },
            title: {
                display: true,
                fullSize: false,
                text: 'Run 669, channel103, Pedestal',
                color: '#000',
                font: { family: font, size: 16.67, weight: 'normal' },
                padding: { top: 13, bottom: 2.6 }
            }
        },
        scales: {
            x: {
                type: 'linear',
                min: -492.65,
                max: 10345.65,
                afterBuildTicks: (axis) => { axis.ticks = xTicks.map((v) => ({ value: v })); },
                afterFit: (axis) => { axis.height = 58; },
                ticks: {
                    color: '#000',
                    font: { family: font, size: 13.9 },
                    maxRotation: 0,
                    padding: 3,
                    callback: (v) => String(v)
                },
                grid: { color: '#b0b0b0', lineWidth: 1, tickColor: '#000', tickLength: 5 },
                border: { color: '#000' },
                title: {
                    display: true,
                    text: 'Sample #',
                    color: '#000',
                    font: { family: font, size: 13.9 },
                    padding: { top: 4, bottom: 13 }
                }
            },
            y: {
                type: 'linear',
                min: 6525,
                max: 6591,
                afterBuildTicks: (axis) => { axis.ticks = yTicks.map((v) => ({ value: v })); },
                afterFit: (axis) => { axis.width = 80; },
                ticks: {
                    color: '#000',
                    font: { family: font, size: 13.9 },
                    padding: 5,
                    callback: (v) => String(v)
                },
                grid: { color: '#b0b0b0', lineWidth: 1, tickColor: '#000', tickLength: 5 },
                border: { color: '#000' },
                title: {
                    display: true,
                    text: 'ADC Counts',
                    color: '#000',
                    font: { family: font, size: 13.9 },
                    padding: { top: 13, bottom: 4 }
                }
            }
        }
    }
});
</script>
</body>
</html>
